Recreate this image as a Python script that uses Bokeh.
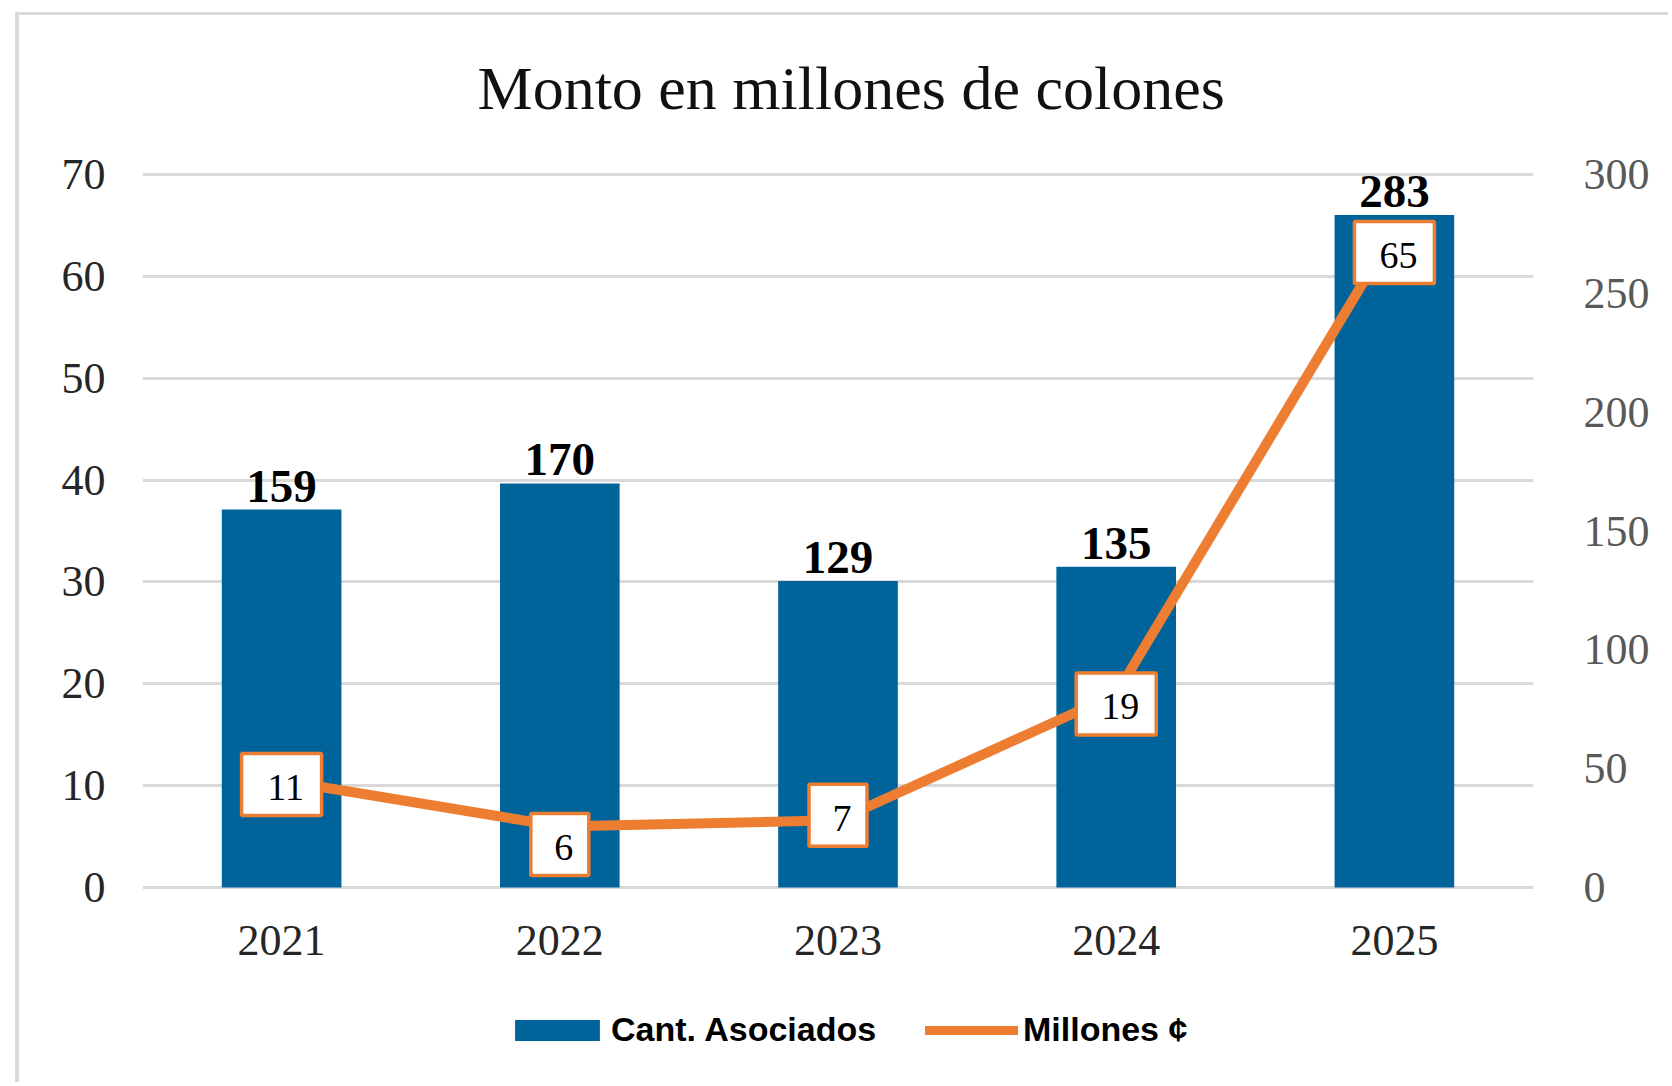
from bokeh.plotting import figure
from bokeh.layouts import column
from bokeh.models import (ColumnDataSource, Range1d, LinearAxis, FixedTicker, FactorRange,
                          LabelSet, Legend, LegendItem, InlineStyleSheet)
from bokeh.core.properties import value
from bokeh.embed import file_html
from bokeh.resources import INLINE

# ---------------- data ----------------
years = ["2021", "2022", "2023", "2024", "2025"]
asociados = [159, 170, 129, 135, 283]
millones = [10.5, 6.0, 6.6, 19.0, 64.5]
millones_labels = ["11", "6", "7", "19", "65"]
left_ticks = [0, 10, 20, 30, 40, 50, 60, 70]
right_ticks = [0, 50, 100, 150, 200, 250, 300]
title_text = "Monto en millones de colones"
bar_name = "Cant. Asociados"
line_name = "Millones ¢"

# ---------------- layout / style ----------------
W, H1, H2 = 1668, 1000, 82                  # main chart + legend strip
PAD = 3                                     # keeps the 0 / 70 gridlines inside the frame
GL, GR, GT, GB = 142, 1533, 174, 887        # gridline extents (canvas px)
FL, FR, FT, FB = GL, GR, GT - PAD, GB + PAD  # frame edges
LEFT_MAX, RIGHT_MAX = 70, 300
px_l = (GB - GT) / LEFT_MAX
px_r = (GB - GT) / RIGHT_MAX

BLUE = "#00649B"
ORANGE = "#ED7D31"
GRID = "#D9D9D9"
SERIF = "Liberation Serif"
SANS = "Liberation Sans"

# data-label box placement (pixels below each point, as placed in the original)
label_drop_px = [4, 18, -5, 10, 22]
box_y = [m - d / px_l for m, d in zip(millones, label_drop_px)]
box_w = [22 * len(s) + 36 for s in millones_labels]

src = ColumnDataSource(dict(
    years=years,
    asociados=asociados,
    alabels=[str(v) for v in asociados],
    millones=millones,
    mlabels=millones_labels,
    box_y=box_y,
    box_w=box_w,
))

p = figure(width=W, height=H1, x_range=FactorRange(*years),
           y_range=Range1d(-PAD / px_l, LEFT_MAX + PAD / px_l),
           output_backend="svg", toolbar_location=None,
           min_border_left=FL, min_border_right=W - FR,
           min_border_top=FT, min_border_bottom=H1 - FB)
p.extra_y_ranges = {"right": Range1d(-PAD / px_r, RIGHT_MAX + PAD / px_r)}
p.outline_line_color = None
p.background_fill_color = "white"
p.border_fill_color = "white"

# title
p.title.text = title_text
p.title.align = "left"
p.title.offset = 335
p.title.standoff = 98
p.title.vertical_align = "middle"
p.title.text_font = SERIF
p.title.text_font_size = "62px"
p.title.text_font_style = "normal"
p.title.text_color = "#111111"

def style_axis(ax, color, standoff):
    ax.axis_line_color = None
    ax.major_tick_line_color = None
    ax.minor_tick_line_color = None
    ax.major_tick_out = 0
    ax.major_tick_in = 0
    ax.minor_tick_out = 0
    ax.major_label_text_font = SERIF
    ax.major_label_text_font_size = "44px"
    ax.major_label_text_color = color
    ax.major_label_standoff = standoff

style_axis(p.xaxis[0], "#262626", 35)

ya = p.yaxis[0]
ya.ticker = FixedTicker(ticks=left_ticks)
style_axis(ya, "#262626", 37)

ra = LinearAxis(y_range_name="right", ticker=FixedTicker(ticks=right_ticks))
style_axis(ra, "#595959", 50)
p.add_layout(ra, "right")

p.xgrid.visible = False
p.ygrid.grid_line_color = GRID
p.ygrid.grid_line_width = 3

# glyphs
bar_style = dict(fill_color=BLUE, line_color=None)

p.vbar(x="years", top="asociados", width=0.43, source=src, y_range_name="right", **bar_style)
p.line(x="years", y="millones", source=src, line_color=ORANGE, line_width=10,
       line_join="round", line_cap="round")
p.rect(x="years", y="box_y", width="box_w", height=62, width_units="screen",
       height_units="screen", source=src, fill_color="white", line_color=ORANGE,
       line_width=3.5)

p.add_layout(LabelSet(x="years", y="asociados", text="alabels", source=src,
                      y_range_name="right", y_offset=8, text_align="center",
                      text_baseline="alphabetic", text_font=value(SERIF),
                      text_font_style="bold", text_font_size=value("47px"),
                      text_color="black"))

p.add_layout(LabelSet(x="years", y="box_y", text="mlabels", source=src,
                      x_offset=4, y_offset=-3, text_align="center",
                      text_baseline="middle", text_font=value(SERIF),
                      text_font_size=value("38px"), text_color="black"))

# ---------------- legend strip ----------------
pl = figure(width=W, height=H2, x_range=Range1d(0, 1), y_range=Range1d(0, 1),
            x_axis_type=None, y_axis_type=None, output_backend="svg",
            toolbar_location=None, min_border=0, title=None)
pl.outline_line_color = None
pl.grid.visible = False
pl.background_fill_color = "white"
pl.border_fill_color = "white"
# legend-only renderers (no drawable data, only their styles are used by the legend)
nan = float("nan")
leg_bar = pl.vbar(x=[0.5], top=[nan], width=0.1, **bar_style)
leg_line = pl.line(x=[0.5, 0.6], y=[nan, nan], line_color=ORANGE, line_width=9,
                   line_cap="round")

leg_common = dict(orientation="horizontal", padding=0, margin=0,
                  border_line_color=None, background_fill_alpha=0,
                  label_text_font=SANS, label_text_font_style="bold",
                  label_text_font_size="34px", label_text_color="black",
                  glyph_height=26, label_height=26)
pl.add_layout(Legend(items=[LegendItem(label=bar_name, renderers=[leg_bar])],
                     location=(362, 33), glyph_width=106, label_standoff=1, **leg_common))
pl.add_layout(Legend(items=[LegendItem(label=line_name, renderers=[leg_line])],
                     location=(783, 33), glyph_width=93, label_standoff=5, **leg_common))

layout = column(p, pl, spacing=0)
# outer chart border (top and left edges visible)
layout.stylesheets = [InlineStyleSheet(css="""
:host { position: relative; }
:host::before {
  content: ""; position: absolute; left: 15px; top: 12px; right: 0; bottom: 0;
  border-left: 4px solid #D9D9D9; border-top: 3px solid #D9D9D9;
  pointer-events: none; z-index: 10;
}
""")]

open("out.html", "w").write(file_html(layout, INLINE))
